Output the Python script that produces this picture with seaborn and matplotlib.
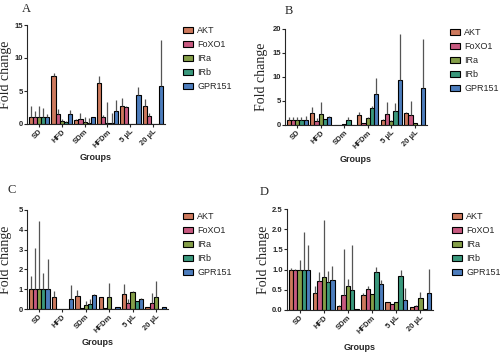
import numpy as np
import pandas as pd
import matplotlib
matplotlib.use("Agg")
import matplotlib.pyplot as plt
import matplotlib.transforms as mtransforms
import seaborn as sns

# groups and genes
groups = ["SD", "HFD", "SDm", "HFDm", "5 µL", "20 µL"]
genes = ["AKT", "FoXO1", "IRa", "IRb", "GPR151"]
colors = ["#e0704a", "#d9477a", "#8aac3a", "#2aa882", "#3a7ad0"]

# panel A : mean / top of error bar (one row per gene)
a_mean = [[1.0, 7.2, 0.6, 6.2, 2.8, 2.7],
          [1.0, 1.5, 0.8, 1.1, 2.6, 1.2],
          [1.0, 0.5, 0.3, 0.1, 0.05, 0.05],
          [1.0, 0.3, 0.1, 0.1, 0.05, 0.05],
          [1.0, 1.5, 1.0, 2.0, 4.4, 5.7]]
a_top = [[2.7, 7.8, 0.7, 7.3, 4.0, 3.8],
         [1.9, 2.2, 1.7, 1.3, 2.8, 1.6],
         [2.7, 0.8, 1.1, 3.3, 0.05, 0.05],
         [2.5, 0.5, 0.9, 1.7, 0.05, 0.05],
         [1.5, 2.1, 1.0, 3.6, 5.6, 12.8]]

b_mean = [[1.0, 2.6, 0.1, 2.0, 1.0, 2.6],
          [1.0, 0.8, 0.05, 0.4, 2.2, 2.1],
          [1.0, 2.2, 0.3, 1.5, 0.8, 0.4],
          [1.0, 1.3, 1.0, 3.5, 3.0, 0.1],
          [1.0, 1.7, 0.0, 6.5, 9.3, 7.7]]
b_top = [[1.7, 3.8, 0.1, 2.8, 1.3, 2.8],
         [1.6, 1.5, 0.05, 0.4, 4.8, 4.9],
         [1.6, 4.7, 0.3, 1.7, 1.0, 0.4],
         [1.7, 1.3, 1.7, 4.0, 4.5, 0.1],
         [1.8, 1.9, 0.0, 9.7, 18.9, 17.9]]

c_mean = [[1.0, 0.6, 0.65, 0.6, 0.75, 0.1],
          [1.0, 0.0, 0.05, 0.05, 0.3, 0.3],
          [1.0, 0.02, 0.2, 0.6, 0.88, 0.6],
          [1.0, 0.02, 0.25, 0.0, 0.38, 0.0],
          [1.0, 0.5, 0.72, 0.1, 0.5, 0.1]]
c_top = [[1.65, 0.9, 0.95, 0.6, 1.25, 0.1],
         [3.1, 0.0, 0.05, 0.05, 0.5, 0.8],
         [4.45, 0.02, 0.4, 1.3, 0.9, 1.4],
         [1.8, 0.02, 0.5, 0.0, 0.4, 0.0],
         [2.55, 1.2, 0.75, 0.1, 0.58, 0.12]]

d_mean = [[1.0, 0.42, 0.1, 0.38, 0.2, 0.08],
          [1.0, 0.72, 0.38, 0.52, 0.14, 0.1],
          [1.0, 0.82, 0.6, 0.4, 0.2, 0.3],
          [1.0, 0.7, 0.5, 0.95, 0.85, 0.03],
          [1.0, 0.74, 0.03, 0.65, 0.25, 0.42]]
d_top = [[1.05, 0.6, 0.13, 0.42, 0.2, 0.08],
         [1.02, 0.95, 1.52, 0.6, 0.14, 0.12],
         [1.25, 2.22, 0.76, 0.4, 0.2, 0.45],
         [1.92, 0.97, 1.6, 1.07, 1.0, 0.03],
         [1.6, 1.1, 0.03, 0.75, 0.55, 1.02]]

W, H = 500.0, 353.0
# letter, mean, top, ymax, step, axes box (px: left, top, right, bottom), fmt,
# letter pos, legend pos, ylabel x, xlabel top
panels = [
    ("A", a_mean, a_top, 15, 5, (27, 25, 165, 124), "%d", (22, 9), (183, 26), 12, 153),
    ("B", b_mean, b_top, 20, 5, (285, 29, 427, 125), "%d", (285, 11), (450, 28), 268, 155),
    ("C", c_mean, c_top, 5, 1, (27, 210, 168, 309), "%d", (7, 190), (183, 212), 12, 338),
    ("D", d_mean, d_top, 2.5, 0.5, (287, 209, 433, 310), "%.1f", (260, 192), (452, 212), 270, 343),
]

sns.set_style("ticks")
serif = ["Liberation Serif", "DejaVu Serif"]
sans = ["Liberation Sans", "DejaVu Sans"]
plt.rcParams['font.family'] = sans

fig = plt.figure(figsize=(5, 3.53), dpi=100)

for letter, mean, top, ymax, step, box, fmt, lpos, legpos, ylx, xlt in panels:
    l, t, r, b = box
    ax = fig.add_axes([l / W, 1 - b / H, (r - l) / W, (b - t) / H])
    rows = []
    for gi, g in enumerate(genes):
        for ki, grp in enumerate(groups):
            rows.append({"group": grp, "gene": g, "val": mean[gi][ki]})
    df = pd.DataFrame(rows)
    sns.barplot(data=df, x="group", y="val", hue="gene", order=groups, hue_order=genes,
                palette=colors, edgecolor="black", linewidth=0.8, width=0.9,
                errorbar=None, ax=ax)
    # upper-only error bars from bar centers
    for gi, cont in enumerate(ax.containers):
        for ki, bar in enumerate(cont):
            xc = bar.get_x() + bar.get_width() / 2
            ax.vlines(xc, mean[gi][ki], top[gi][ki], color="#555555", lw=0.9, zorder=3)
    ax.set_ylim(0, ymax)
    ax.set_yticks(np.arange(0, ymax + 1e-9, step))
    ax.yaxis.set_major_formatter(matplotlib.ticker.FormatStrFormatter(fmt))
    ax.set_xlim(-0.52, 5.52)
    sns.despine(ax=ax)
    ax.tick_params(axis="both", length=2, width=0.8, pad=1, labelsize=5.5)
    for tl in ax.get_yticklabels():
        tl.set_fontweight("bold")
    ax.set_xticks(range(len(groups)))
    ax.set_xticklabels(groups, rotation=45, ha="right", rotation_mode="anchor",
                       fontsize=5.5, fontweight="bold")
    ax.set_xlabel("Groups", fontsize=6.5, fontweight="bold")
    ax.xaxis.set_label_coords(0.5, 1 - xlt / H,
                              transform=mtransforms.blended_transform_factory(ax.transAxes, fig.transFigure))
    ax.set_ylabel("Fold change", fontsize=10, family=serif)
    ax.yaxis.set_label_coords(ylx / W, 0.5,
                              transform=mtransforms.blended_transform_factory(fig.transFigure, ax.transAxes))
    hh, ll = ax.get_legend_handles_labels()
    ax.legend(hh, ll, loc="upper left", bbox_to_anchor=(legpos[0] / W, 1 - legpos[1] / H),
              bbox_transform=fig.transFigure, frameon=False,
              fontsize=6.5, handlelength=1.1, handleheight=0.75, handletextpad=0.5,
              labelspacing=0.56, borderpad=0, borderaxespad=0)
    fig.text(lpos[0] / W, 1 - lpos[1] / H, letter, fontsize=9, family=serif,
             ha="left", va="center")
    for sp in ax.spines.values():
        sp.set_linewidth(0.8)

fig.savefig("out.png", dpi=100)
